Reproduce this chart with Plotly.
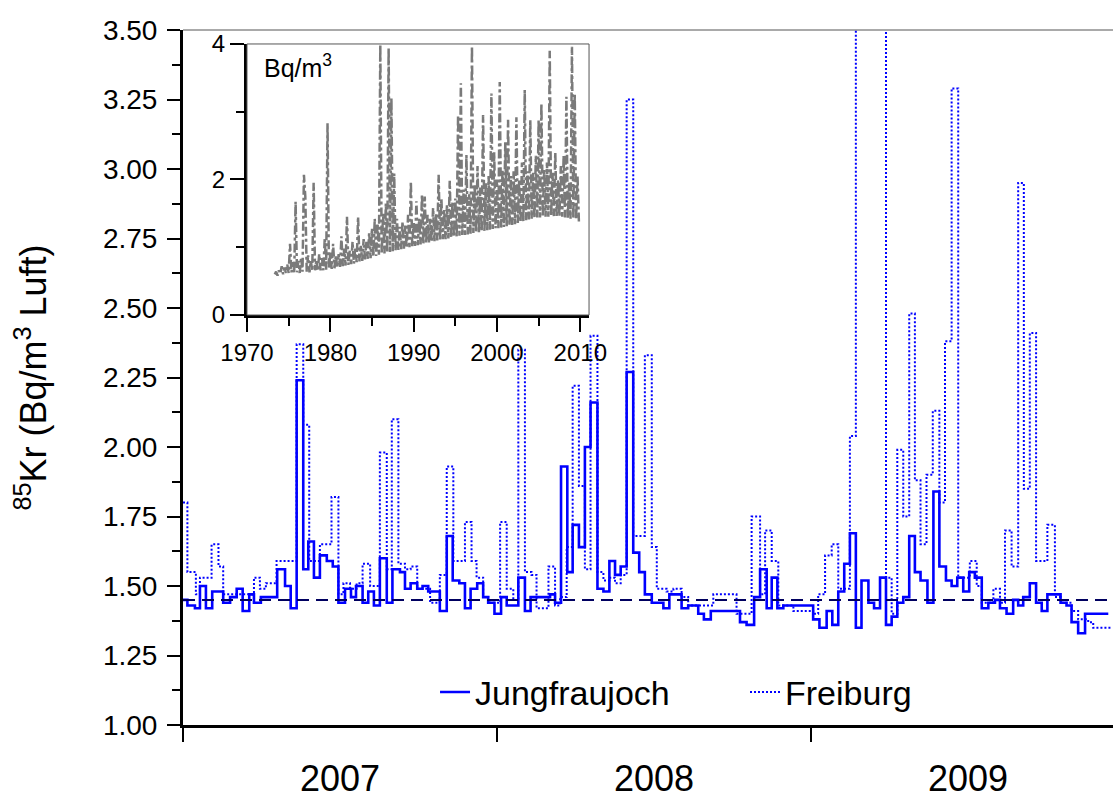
import plotly.graph_objects as go

# ---------------- main panel data (decimal year of step start, value) ----------------
JUNG_X = [2007.000, 2007.014, 2007.038, 2007.054, 2007.073, 2007.093, 2007.128, 2007.150, 2007.171, 2007.190,
          2007.211, 2007.226, 2007.248, 2007.300, 2007.325, 2007.343, 2007.362, 2007.383, 2007.399, 2007.417,
          2007.436, 2007.458, 2007.477, 2007.495, 2007.516, 2007.535, 2007.551, 2007.572, 2007.590, 2007.608,
          2007.627, 2007.649, 2007.667, 2007.691, 2007.707, 2007.725, 2007.746, 2007.763, 2007.781, 2007.818,
          2007.840, 2007.859, 2007.880, 2007.898, 2007.916, 2007.937, 2007.956, 2007.972, 2007.992, 2008.013,
          2008.031, 2008.068, 2008.089, 2008.107, 2008.169, 2008.185, 2008.204, 2008.224, 2008.241, 2008.261,
          2008.280, 2008.298, 2008.320, 2008.339, 2008.358, 2008.376, 2008.394, 2008.413, 2008.434, 2008.453,
          2008.471, 2008.493, 2008.530, 2008.549, 2008.588, 2008.609, 2008.641, 2008.659, 2008.681, 2008.774,
          2008.795, 2008.819, 2008.838, 2008.859, 2008.875, 2008.893, 2008.912, 2009.007, 2009.027, 2009.050,
          2009.068, 2009.087, 2009.106, 2009.124, 2009.143, 2009.161, 2009.183, 2009.201, 2009.220, 2009.239,
          2009.257, 2009.275, 2009.294, 2009.313, 2009.331, 2009.349, 2009.371, 2009.390, 2009.409, 2009.430,
          2009.448, 2009.466, 2009.485, 2009.504, 2009.522, 2009.544, 2009.565, 2009.586, 2009.602, 2009.623,
          2009.644, 2009.660, 2009.676, 2009.697, 2009.717, 2009.735, 2009.753, 2009.795, 2009.814, 2009.830,
          2009.851, 2009.873, 2009.947]
JUNG_Y = [1.45, 1.43, 1.42, 1.50, 1.42, 1.48, 1.44, 1.46, 1.49, 1.41,
          1.47, 1.44, 1.46, 1.56, 1.50, 1.42, 2.24, 1.56, 1.66, 1.53,
          1.61, 1.59, 1.57, 1.44, 1.49, 1.46, 1.50, 1.44, 1.48, 1.43,
          1.60, 1.44, 1.56, 1.55, 1.49, 1.51, 1.49, 1.50, 1.48, 1.41,
          1.68, 1.52, 1.51, 1.42, 1.49, 1.51, 1.46, 1.44, 1.40, 1.46,
          1.43, 1.53, 1.41, 1.46, 1.47, 1.44, 1.93, 1.55, 1.72, 1.64,
          2.00, 2.16, 1.49, 1.48, 1.59, 1.54, 1.57, 2.27, 1.62, 1.55,
          1.47, 1.44, 1.42, 1.47, 1.42, 1.43, 1.40, 1.38, 1.41, 1.37,
          1.36, 1.46, 1.56, 1.42, 1.53, 1.42, 1.43, 1.38, 1.35, 1.41,
          1.36, 1.48, 1.58, 1.69, 1.35, 1.52, 1.44, 1.42, 1.53, 1.36,
          1.39, 1.44, 1.46, 1.68, 1.55, 1.52, 1.44, 1.84, 1.57, 1.52,
          1.50, 1.53, 1.48, 1.55, 1.53, 1.42, 1.44, 1.45, 1.42, 1.40,
          1.45, 1.43, 1.46, 1.51, 1.44, 1.41, 1.47, 1.44, 1.43, 1.37,
          1.33, 1.40, 1.40]

FREI_X = [2007.000, 2007.014, 2007.041, 2007.054, 2007.091, 2007.113, 2007.128, 2007.226, 2007.245, 2007.264,
          2007.298, 2007.362, 2007.383, 2007.402, 2007.436, 2007.473, 2007.495, 2007.511, 2007.532, 2007.553,
          2007.572, 2007.596, 2007.627, 2007.649, 2007.665, 2007.686, 2007.707, 2007.725, 2007.746, 2007.787,
          2007.818, 2007.840, 2007.861, 2007.898, 2007.919, 2007.935, 2007.956, 2007.972, 2008.010, 2008.031,
          2008.052, 2008.068, 2008.089, 2008.110, 2008.126, 2008.164, 2008.185, 2008.201, 2008.222, 2008.241,
          2008.261, 2008.280, 2008.298, 2008.320, 2008.339, 2008.358, 2008.376, 2008.394, 2008.413, 2008.434,
          2008.471, 2008.493, 2008.509, 2008.540, 2008.562, 2008.588, 2008.609, 2008.689, 2008.763, 2008.811,
          2008.838, 2008.854, 2008.875, 2008.896, 2008.944, 2009.007, 2009.023, 2009.045, 2009.066, 2009.087,
          2009.124, 2009.143, 2009.239, 2009.257, 2009.275, 2009.294, 2009.313, 2009.331, 2009.349, 2009.368,
          2009.388, 2009.409, 2009.427, 2009.448, 2009.469, 2009.506, 2009.528, 2009.544, 2009.581, 2009.602,
          2009.618, 2009.639, 2009.660, 2009.678, 2009.697, 2009.717, 2009.753, 2009.777, 2009.795, 2009.830,
          2009.851, 2009.883, 2009.899, 2009.960]
FREI_Y = [1.80, 1.55, 1.47, 1.53, 1.65, 1.57, 1.47, 1.53, 1.49, 1.51,
          1.59, 2.37, 2.08, 1.59, 1.65, 1.82, 1.47, 1.51, 1.49, 1.51,
          1.58, 1.50, 1.98, 1.56, 2.10, 1.58, 1.56, 1.57, 1.49, 1.44,
          1.54, 1.93, 1.59, 1.73, 1.59, 1.53, 1.46, 1.44, 1.73, 1.49,
          1.45, 2.35, 1.55, 1.54, 1.42, 1.57, 1.43, 1.46, 1.64, 2.22,
          1.86, 1.56, 2.40, 1.55, 1.52, 1.53, 1.51, 1.54, 3.25, 1.68,
          2.33, 1.64, 1.49, 1.48, 1.49, 1.46, 1.43, 1.47, 1.40, 1.75,
          1.47, 1.70, 1.59, 1.43, 1.41, 1.40, 1.47, 1.61, 1.65, 1.49,
          2.04, 4.20, 1.53, 1.40, 1.99, 1.75, 2.48, 1.88, 1.65, 1.90,
          2.13, 1.80, 2.38, 3.29, 1.53, 1.59, 1.50, 1.44, 1.49, 1.44,
          1.70, 1.57, 2.95, 1.85, 2.41, 1.59, 1.72, 1.46, 1.44, 1.41,
          1.38, 1.37, 1.35, 1.35]

BASELINE = 1.45
YEAR_LABELS = ["2007", "2008", "2009"]
YEAR_STARTS = [2007, 2008, 2009]
Y_TICKS = [1.00, 1.25, 1.50, 1.75, 2.00, 2.25, 2.50, 2.75, 3.00, 3.25, 3.50]

# ---------------- inset data: samples per year (long-term record) ----------------
INSET_YEARS = list(range(1973, 2010))
INSET_VALUES = [
    [0.60, 0.64, 0.58, 0.66],
    [0.61, 0.72, 0.60, 0.70, 0.62, 0.75],
    [0.62, 1.05, 0.63, 0.78, 0.62, 1.67],
    [0.63, 0.80, 0.62, 0.85, 0.64, 2.07],
    [1.75, 0.64, 0.88, 0.63, 0.80, 0.65],
    [1.95, 0.66, 0.82, 0.65, 0.90, 0.66],
    [0.84, 0.66, 1.14, 0.67, 2.83, 0.68],
    [0.92, 0.68, 1.05, 0.69, 0.88, 0.70],
    [0.90, 0.71, 1.16, 0.72, 0.98, 0.73],
    [1.45, 0.74, 0.95, 0.75, 1.08, 0.76],
    [1.00, 0.78, 1.45, 0.79, 1.02, 0.80],
    [1.12, 0.82, 1.08, 0.83, 1.22, 0.84],
    [1.28, 0.86, 1.42, 0.87, 1.35, 0.89],
    [3.99, 0.90, 1.50, 0.91, 1.65, 0.92],
    [3.94, 0.93, 3.20, 0.94, 2.09, 0.95],
    [1.42, 0.96, 1.30, 0.97, 1.38, 0.98],
    [1.32, 0.99, 1.48, 1.00, 1.97, 1.01],
    [1.38, 1.02, 1.68, 1.03, 1.42, 1.04],
    [1.78, 1.05, 1.75, 1.06, 1.48, 1.07],
    [1.42, 1.08, 1.58, 1.09, 1.50, 1.10],
    [2.07, 1.11, 1.72, 1.12, 1.55, 1.12],
    [1.62, 1.13, 1.98, 1.14, 1.68, 1.15],
    [1.72, 1.16, 2.95, 1.17, 3.42, 1.18],
    [1.85, 1.18, 2.36, 1.19, 1.78, 1.20],
    [3.97, 1.21, 1.92, 1.22, 2.20, 1.22],
    [1.88, 1.23, 2.95, 1.24, 1.95, 1.25],
    [2.05, 1.26, 3.27, 1.27, 2.40, 1.28],
    [2.00, 1.28, 3.44, 1.29, 2.15, 1.30],
    [2.55, 1.31, 2.88, 1.32, 2.05, 1.33],
    [2.12, 1.34, 2.92, 1.36, 2.00, 1.37],
    [2.25, 1.38, 3.32, 1.40, 2.12, 1.41],
    [2.88, 1.42, 2.10, 1.43, 2.35, 1.44],
    [2.88, 1.44, 3.12, 1.45, 2.15, 1.45],
    [2.25, 1.45, 3.90, 1.46, 2.10, 1.46],
    [2.40, 1.45, 2.00, 1.46, 2.20, 1.45],
    [2.35, 1.44, 3.22, 1.43, 1.95, 1.42],
    [3.96, 1.42, 3.27, 1.41, 2.05, 1.38],
]
SAMPLES_PER_YEAR = 6

inset_x, inset_y = [], []
for yr, row in zip(INSET_YEARS, INSET_VALUES):
    n = len(row)
    for k, v in enumerate(row):
        inset_x.append(yr + 1 - (n - k) / SAMPLES_PER_YEAR)
        inset_y.append(v)

FONT = "Liberation Sans, Arial, sans-serif"
BLUE = "#0000ff"

fig = go.Figure()

fig.add_trace(go.Scatter(
    x=JUNG_X, y=JUNG_Y, mode="lines", line_shape="hv", name="Jungfraujoch",
    line=dict(color=BLUE, width=2.6), xaxis="x", yaxis="y"))
fig.add_trace(go.Scatter(
    x=FREI_X, y=FREI_Y, mode="lines", line_shape="hv", name="Freiburg",
    line=dict(color=BLUE, width=2, dash="2px,2px"), xaxis="x", yaxis="y"))

fig.add_trace(go.Scatter(
    x=inset_x, y=inset_y, mode="lines", showlegend=False,
    line=dict(color="#7a7a7a", width=2.5, dash="dashdot"), xaxis="x2", yaxis="y2"))

fig.add_shape(type="line", xref="paper", yref="y", x0=0, x1=1, y0=BASELINE, y1=BASELINE,
              line=dict(color="#000060", width=2, dash="12px,7px"), layer="above")
fig.add_shape(type="line", xref="paper", yref="paper", x0=0, x1=1, y0=1, y1=1,
              line=dict(color="#555555", width=1))
fig.add_shape(type="rect", xref="x2 domain", yref="y2 domain", x0=0, x1=1, y0=0, y1=1,
              line=dict(color="#555555", width=1))

fig.add_annotation(text="Bq/m<sup>3</sup>", xref="x2 domain", yref="y2 domain", x=0.045, y=0.92,
                   xanchor="left", yanchor="middle", showarrow=False,
                   font=dict(family=FONT, size=25, color="black"))

fig.update_layout(
    width=1113, height=798, autosize=False,
    margin=dict(l=183, r=0, t=30, b=73, autoexpand=False),
    paper_bgcolor="white", plot_bgcolor="white",
    font=dict(family=FONT, color="black"),
    xaxis=dict(
        range=[2007.0, 2009.962], showgrid=False, zeroline=False, automargin=False,
        showline=True, linecolor="black", linewidth=3,
        tickmode="array", tickvals=[y + 0.5 for y in YEAR_STARTS], ticktext=YEAR_LABELS,
        ticks="", tickfont=dict(size=36, family=FONT), ticklabelstandoff=20,
        minor=dict(tickmode="array", tickvals=YEAR_STARTS, ticks="outside", ticklen=14,
                   tickwidth=2, tickcolor="black"),
    ),
    yaxis=dict(
        range=[1.0, 3.5], showgrid=False, zeroline=False, automargin=False,
        showline=True, linecolor="black", linewidth=3,
        tickmode="array", tickvals=Y_TICKS, tickformat=".2f",
        ticks="outside", ticklen=13, tickwidth=2, tickcolor="black",
        tickfont=dict(size=28, family=FONT), ticklabelstandoff=4,
        minor=dict(tickmode="array", tickvals=[v + 0.125 for v in Y_TICKS[:-1]],
                   ticks="outside", ticklen=8, tickwidth=2, tickcolor="black"),
        title=dict(text="<sup>85</sup>Kr (Bq/m<sup>3</sup> Luft)", font=dict(size=36, family=FONT),
                   standoff=46),
    ),
    xaxis2=dict(
        domain=[0.0688, 0.4366], anchor="y2", range=[1970, 2011.05], automargin=False,
        showgrid=False, zeroline=False, showline=True, linecolor="black", linewidth=3,
        tickmode="array", tickvals=[1970, 1980, 1990, 2000, 2010],
        ticks="outside", ticklen=14, tickwidth=2, tickcolor="black",
        tickfont=dict(size=24, family=FONT),
        minor=dict(tickmode="array", tickvals=[1975, 1985, 1995, 2005],
                   ticks="outside", ticklen=8, tickwidth=2, tickcolor="black"),
    ),
    yaxis2=dict(
        domain=[0.5899, 0.9799], anchor="x2", range=[0, 4], automargin=False,
        showgrid=False, zeroline=False, showline=True, linecolor="black", linewidth=3,
        tickmode="array", tickvals=[0, 2, 4],
        ticks="outside", ticklen=14, tickwidth=2, tickcolor="black",
        tickfont=dict(size=24, family=FONT),
        minor=dict(tickmode="array", tickvals=[1, 3],
                   ticks="outside", ticklen=8, tickwidth=2, tickcolor="black"),
    ),
    legend=dict(orientation="h", x=0.271, y=0.047, xanchor="left", yanchor="middle",
                bgcolor="rgba(0,0,0,0)", font=dict(size=34, family=FONT),
                entrywidth=265, entrywidthmode="pixels"),
    showlegend=True,
)

fig.write_html("out.html", config={"displayModeBar": False, "responsive": False},
               post_script="document.body.style.margin='0px';document.body.style.overflow='hidden';"
                           "document.documentElement.style.overflow='hidden';")
